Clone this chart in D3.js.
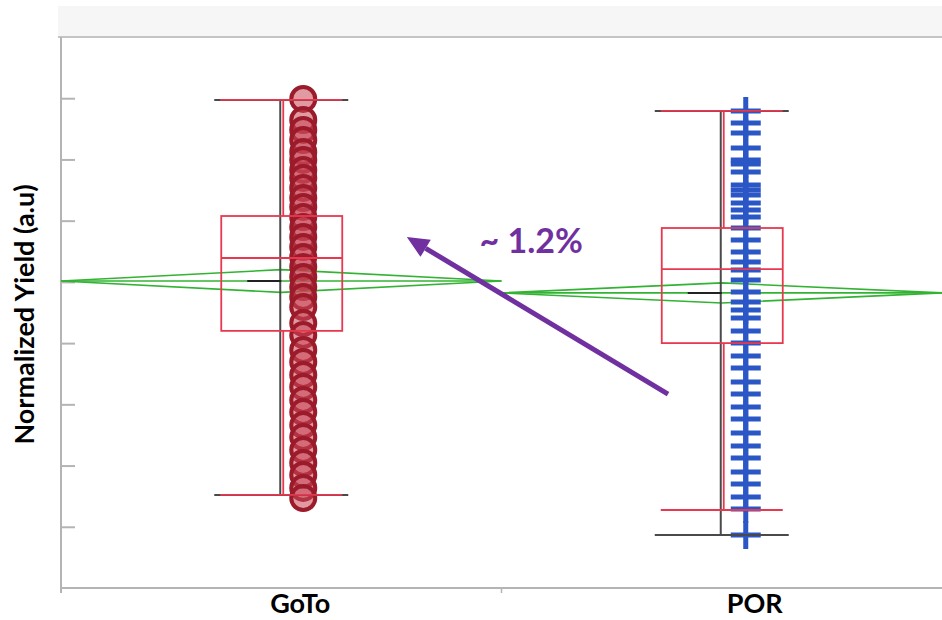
<!DOCTYPE html>
<html><head><meta charset="utf-8">
<script src="https://cdn.jsdelivr.net/npm/d3@7"></script>
<style>html,body{margin:0;padding:0;background:#fff;}svg{display:block;}</style>
</head><body>
<svg id="chart" width="942" height="620"></svg>
<script>
// ---- data ----
const categories = ["GoTo", "POR"];
const gotoValues = [1.1494, 1.1322, 1.1241, 1.1159, 1.1061, 1.0996, 1.0914, 1.0849, 1.0767, 1.0685,
  1.0612, 1.0530, 1.0448, 1.0367, 1.0285, 1.0203, 1.0122, 1.0040, 0.9958, 0.9877,
  0.9795, 0.9664, 0.9566, 0.9444, 0.9346, 0.9240, 0.9142, 0.9035, 0.8937, 0.8831,
  0.8733, 0.8627, 0.8521, 0.8423, 0.8317, 0.8235];
const porValues = [1.1396, 1.1298, 1.1216, 1.1094, 1.0996, 1.0963, 1.0898, 1.0791, 1.0751, 1.0710,
  1.0644, 1.0587, 1.0530, 1.0440, 1.0342, 1.0244, 1.0162, 1.0097, 1.0015, 0.9917,
  0.9835, 0.9770, 0.9705, 0.9599, 0.9501, 0.9395, 0.9297, 0.9182, 0.9084, 0.8978,
  0.8880, 0.8766, 0.8660, 0.8562, 0.8447, 0.8349, 0.8243, 0.8145, 0.7933];
const q1 = [0.960, 0.950];
const median = [1.0195, 1.0105];
const q3 = [1.0538, 1.0440];
const whiskerLow = [0.826, 0.8137];
const whiskerHigh = [1.1486, 1.1396];
const dataMin = [0.826, 0.7933];
const dataMax = [1.1486, 1.1396];
const means = [1.0007, 0.9910];
const meanCI = [0.0093, 0.0082];
const yTicks = [0.80, 0.85, 0.90, 0.95, 1.00, 1.05, 1.10, 1.15];
const yLabel = "Normalized Yield (a.u)";
const annotationText = "~ 1.2%";
const arrowFrom = [0.878, 0.9084];   // [category position, value]
const arrowTo = [0.285, 1.0367];
const textAt = [0.45, 1.0236];

// ---- layout ----
const svg = d3.select("#chart");
const L = 61, R = 942, T = 37, B = 588;
const x = d3.scaleBand().domain(categories).range([L, R]).padding(0);
const xPos = d3.scaleLinear().domain([-0.5, 1.5]).range([L, R]);
const y = d3.scaleLinear().domain([0.75, 1.2]).range([B, T]);
const bw = x.bandwidth();
const cx = c => x(c) + bw / 2;
const labelShift = { GoTo: 19, POR: 33 };
const font = "Lato, 'Open Sans', sans-serif";

// top band
svg.append("rect").attr("x", 58).attr("y", 6).attr("width", R - 58).attr("height", T - 6).attr("fill", "#f6f6f6");

// axes
const axisColor = "#b4b4b4";
svg.append("line").attr("x1", 58).attr("x2", R).attr("y1", T).attr("y2", T).attr("stroke", "#c4c4c4").attr("stroke-width", 2);
const yAxis = d3.axisRight(y).tickValues(yTicks).tickSize(14).tickFormat("");
const gy = svg.append("g").attr("transform", `translate(${L},0)`).call(yAxis);
gy.select(".domain").remove();
gy.selectAll(".tick line").attr("stroke", axisColor).attr("stroke-width", 2);
svg.append("line").attr("x1", L).attr("x2", L).attr("y1", T).attr("y2", B + 5).attr("stroke", axisColor).attr("stroke-width", 2);

const xAxis = d3.axisBottom(x).tickSize(0).tickFormat(d => d);
const gx = svg.append("g").attr("transform", `translate(0,${B})`).call(xAxis);
gx.select(".domain").remove();
gx.selectAll(".tick text").attr("dy", null).attr("y", 25).attr("dx", d => labelShift[d])
  .attr("font-family", font).attr("font-weight", "bold").attr("font-size", 27).attr("fill", "#000");
svg.append("line").attr("x1", L).attr("x2", R).attr("y1", B).attr("y2", B).attr("stroke", axisColor).attr("stroke-width", 2);
categories.forEach((c, i) => {
  svg.append("line").attr("x1", x(c)).attr("x2", x(c)).attr("y1", B).attr("y2", B + 5).attr("stroke", axisColor).attr("stroke-width", 1.5);
});

svg.append("text").attr("transform", `translate(34,${(T + B) / 2 + 2}) rotate(-90)`)
  .attr("text-anchor", "middle").attr("font-family", font)
  .attr("font-weight", "bold").attr("font-size", 27).attr("fill", "#000").text(yLabel);

// mean diamonds (green)
const green = "#33b333";
categories.forEach((c, i) => {
  const x0 = x(c), x1 = x(c) + bw, xm = cx(c);
  const g = svg.append("g").attr("fill", "none").attr("stroke", green).attr("stroke-width", 1.6);
  g.append("line").attr("x1", x0).attr("x2", x1).attr("y1", y(means[i])).attr("y2", y(means[i]));
  g.append("path").attr("d", d3.line()([[x0, y(means[i])], [xm, y(means[i] + meanCI[i])], [x1, y(means[i])], [xm, y(means[i] - meanCI[i])], [x0, y(means[i])]]));
});

// points
const ptOffset = 22;
svg.append("g").selectAll("circle").data(gotoValues).join("circle")
  .attr("cx", cx("GoTo") + ptOffset).attr("cy", d => y(d)).attr("r", 12)
  .attr("fill", "#c84656").attr("fill-opacity", 0.55).attr("stroke", "#9b1b2b").attr("stroke-width", 4);

const crossW = 15, crossH = 14;
const gp = svg.append("g").attr("stroke", "#2a56c6").attr("stroke-width", 5).attr("fill", "none");
gp.selectAll("path").data(porValues).join("path")
  .attr("d", d => {
    const px = cx("POR") + ptOffset + 2, py = y(d);
    return `M${px - crossW},${py}H${px + crossW}M${px},${py - crossH}V${py + crossH}`;
  });

// box plots
const red = "#e8384f", dark = "#4a4a4a";
categories.forEach((c, i) => {
  const xm = cx(c);
  const g = svg.append("g").attr("fill", "none");
  // quantile whiskers (black)
  g.append("line").attr("x1", xm - 1).attr("x2", xm - 1).attr("y1", y(dataMax[i])).attr("y2", y(dataMin[i])).attr("stroke", dark).attr("stroke-width", 2);
  g.append("line").attr("x1", xm - 67).attr("x2", xm + 67).attr("y1", y(dataMax[i])).attr("y2", y(dataMax[i])).attr("stroke", dark).attr("stroke-width", 2);
  g.append("line").attr("x1", xm - 67).attr("x2", xm + 67).attr("y1", y(dataMin[i])).attr("y2", y(dataMin[i])).attr("stroke", dark).attr("stroke-width", 2);
  // mean tick
  g.append("line").attr("x1", xm - 34).attr("x2", xm).attr("y1", y(means[i])).attr("y2", y(means[i])).attr("stroke", "#222").attr("stroke-width", 2);
  // outlier box (red)
  g.append("line").attr("x1", xm + 2).attr("x2", xm + 2).attr("y1", y(whiskerHigh[i])).attr("y2", y(q3[i])).attr("stroke", red).attr("stroke-width", 1.8);
  g.append("line").attr("x1", xm + 2).attr("x2", xm + 2).attr("y1", y(q1[i])).attr("y2", y(whiskerLow[i])).attr("stroke", red).attr("stroke-width", 1.8);
  g.append("line").attr("x1", xm - 61).attr("x2", xm + 61).attr("y1", y(whiskerHigh[i])).attr("y2", y(whiskerHigh[i])).attr("stroke", red).attr("stroke-width", 1.8);
  g.append("line").attr("x1", xm - 61).attr("x2", xm + 61).attr("y1", y(whiskerLow[i])).attr("y2", y(whiskerLow[i])).attr("stroke", red).attr("stroke-width", 1.8);
  g.append("rect").attr("x", xm - 60).attr("width", 121).attr("y", y(q3[i])).attr("height", y(q1[i]) - y(q3[i]))
    .attr("stroke", red).attr("stroke-width", 1.8);
  g.append("line").attr("x1", xm - 60).attr("x2", xm + 61).attr("y1", y(median[i])).attr("y2", y(median[i])).attr("stroke", red).attr("stroke-width", 1.8);
});

// annotation arrow
const purple = "#7030a0";
const ax0 = xPos(arrowFrom[0]), ay0 = y(arrowFrom[1]);
const ax1 = xPos(arrowTo[0]), ay1 = y(arrowTo[1]);
const ang = Math.atan2(ay1 - ay0, ax1 - ax0);
const headLen = 22, headW = 10;
const bx = ax1 - headLen * Math.cos(ang), by = ay1 - headLen * Math.sin(ang);
svg.append("line").attr("x1", ax0).attr("y1", ay0).attr("x2", bx).attr("y2", by)
  .attr("stroke", purple).attr("stroke-width", 5);
svg.append("path").attr("fill", purple).attr("d", d3.line()([
  [ax1, ay1],
  [bx + headW * Math.sin(ang), by - headW * Math.cos(ang)],
  [bx - headW * Math.sin(ang), by + headW * Math.cos(ang)]
]) + "Z");
svg.append("text").attr("x", xPos(textAt[0])).attr("y", y(textAt[1]))
  .attr("font-family", font).attr("font-weight", "bold").attr("font-size", 34)
  .attr("fill", purple).text(annotationText);
</script>
</body></html>
